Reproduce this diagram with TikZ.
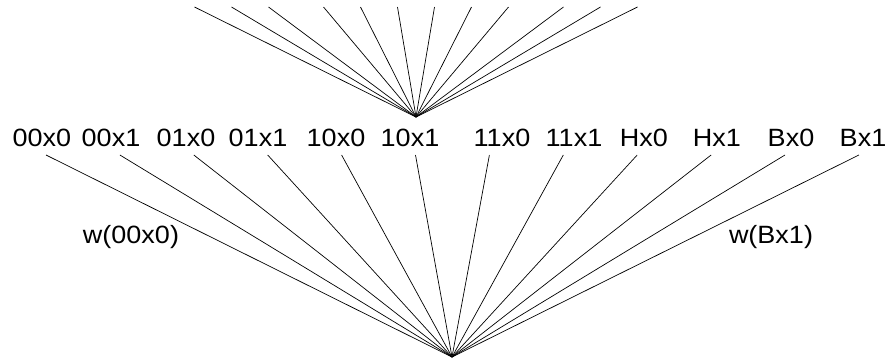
\documentclass[tikz,border=0pt]{standalone}
\usepackage{fontspec}
\setmainfont{Liberation Sans}[FakeStretch=1.08]
\usetikzlibrary{positioning}
\tikzset{
  leaf/.style={font=\fontsize{25}{30}\selectfont,inner sep=0pt,anchor=base},
  weight/.style={font=\fontsize{25}{30}\selectfont,inner sep=0pt,anchor=base},
  fanline/.style={draw=black,line width=0.7pt}
}
\begin{document}
\begin{tikzpicture}[x=1pt,y=-1pt]
\useasboundingbox (0,0) rectangle (887,360);
\coordinate (up) at (416,117);
\coordinate (down) at (452,357);
% upper fan
\foreach \dx [count=\i] in {-221.5,-184.5,-147.5,-92.5,-55.5,-18.5,18.5,55.5,92.5,147.5,184.5,221.5}{
  \coordinate (top\i) at (416+\dx,7);
  \draw[fanline] (up) -- (top\i);
}
% leaves and lower fan
\foreach \lbl/\x [count=\i] in {00x0/42,00x1/111,01x0/186,01x1/258,10x0/336,10x1/410,11x0/502,11x1/574,Hx0/644,Hx1/717,Bx0/791,Bx1/863}{
  \node[leaf] (l\i) at (\x,146) {\lbl};
  \coordinate (b\i) at (46+73.9*\i-73.9,155);
  \draw[fanline] (b\i) -- (down);
}
\node[weight] (w1) at (131,243) {w(00x0)};
\node[weight] (w12) at (771,243) {w(Bx1)};
\end{tikzpicture}
\end{document}
